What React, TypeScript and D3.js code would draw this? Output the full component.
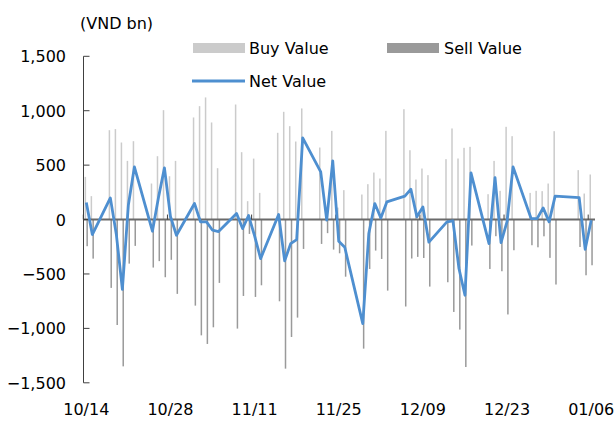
import React from "react";
import * as d3 from "d3";

const dates = [
  "2021-10-14", "2021-10-15", "2021-10-18", "2021-10-19", "2021-10-20", "2021-10-21", "2021-10-22",
  "2021-10-25", "2021-10-26", "2021-10-27", "2021-10-28", "2021-10-29",
  "2021-11-01", "2021-11-02", "2021-11-03", "2021-11-04", "2021-11-05",
  "2021-11-08", "2021-11-09", "2021-11-10", "2021-11-11", "2021-11-12",
  "2021-11-15", "2021-11-16", "2021-11-17", "2021-11-18", "2021-11-19",
  "2021-11-22", "2021-11-23", "2021-11-24", "2021-11-25", "2021-11-26",
  "2021-11-29", "2021-11-30", "2021-12-01", "2021-12-02", "2021-12-03",
  "2021-12-06", "2021-12-07", "2021-12-08", "2021-12-09", "2021-12-10",
  "2021-12-13", "2021-12-14", "2021-12-15", "2021-12-16", "2021-12-17",
  "2021-12-20", "2021-12-21", "2021-12-22", "2021-12-23", "2021-12-24",
  "2021-12-27", "2021-12-28", "2021-12-29", "2021-12-30", "2021-12-31",
  "2022-01-04", "2022-01-05", "2022-01-06",
];

const buyValue = [
  392, 215, 821, 831, 708, 539, 720,
  331, 582, 1005, 398, 539,
  938, 1042, 1122, 892, 472,
  1057, 619, 169, 560, 245,
  797, 990, 858, 717, 1021,
  662, 110, 815, 110, 270,
  230, 325, 432, 377, 815,
  1014, 637, 368, 469, 408,
  555, 837, 561, 659, 668,
  233, 539, 264, 852, 766,
  245, 264, 261, 331, 812,
  454, 239, 414,
];

const sellValue = [
  -245, -359, -628, -969, -1349, -405, -242,
  -441, -382, -530, -370, -683,
  -791, -1064, -1143, -990, -582,
  -1002, -702, -132, -711, -604,
  -751, -1370, -1079, -901, -270,
  -224, -125, -276, -310, -525,
  -1186, -454, -285, -362, -653,
  -799, -358, -343, -353, -616,
  -576, -849, -1011, -1355, -239,
  -454, -153, -475, -872, -282,
  -236, -255, -154, -352, -597,
  -252, -512, -420,
];

const netValue = [
  156, -138, 199, -138, -641, 134, 484,
  -107, 200, 475, 28, -144,
  147, -21, -21, -98, -110,
  55, -83, 37, -150, -359,
  46, -380, -221, -184, 751,
  438, -5, 539, -200, -255,
  -956, -129, 147, 15, 162,
  215, 279, 25, 116, -208,
  -21, -12, -450, -696, 429,
  -221, 386, -211, -20, 484,
  9, 9, 107, -21, 215,
  202, -273, -6,
];

const yTicks = [-1500, -1000, -500, 0, 500, 1000, 1500];
const xTickDates = ["2021-10-14", "2021-10-28", "2021-11-11", "2021-11-25", "2021-12-09", "2021-12-23", "2022-01-06"];
const domainDates = ["2021-10-14", "2022-01-07"];

const FONT = "'DejaVu Sans', Verdana, sans-serif";
const BUY = "#cbcbcb";
const SELL = "#9a9a9a";
const NET = "#4e8fd0";

export default function App() {
  const parse = d3.utcParse("%Y-%m-%d");
  const fmtTick = d3.utcFormat("%m/%d");
  const x = d3.scaleUtc().domain(domainDates.map((d) => parse(d) as Date)).range([83.3, 594.2]);
  const y = d3.scaleLinear().domain([-1500, 1500]).range([382.8, 56.3]);
  const fmtY = d3.format(",");
  const half = 12 * 3600 * 1000;
  const cx = (s: string) => x(new Date((parse(s) as Date).getTime() + half));
  const y0 = y(0);

  const line = d3
    .line<number>()
    .x((_, i) => cx(dates[i]))
    .y((v) => y(v));

  return (
    <svg width={616} height={430} style={{ position: "absolute", left: 0, top: 0, background: "#fff" }}>
      {/* bars */}
      {dates.map((d, i) => (
        <g key={d}>
          <rect x={cx(d) - 1.7} y={y(buyValue[i])} width={1.5} height={y0 - y(buyValue[i])} fill={BUY} />
          <rect x={cx(d) + 0.1} y={y0} width={1.5} height={y(sellValue[i]) - y0} fill={SELL} />
        </g>
      ))}
      {/* zero axis line */}
      <line x1={83.3} x2={595} y1={y0} y2={y0} stroke="#6a6a6a" strokeWidth={2} />
      {xTickDates.map((d) => (
        <line key={d} x1={x(parse(d) as Date)} x2={x(parse(d) as Date)} y1={y0 - 5} y2={y0} stroke="#404040" strokeWidth={1} />
      ))}
      {/* y axis */}
      <line x1={83.5} x2={83.5} y1={y(1500)} y2={y(-1500)} stroke="#404040" strokeWidth={1} />
      {yTicks.map((t) => (
        <g key={t}>
          <line x1={83.5} x2={89.5} y1={y(t)} y2={y(t)} stroke="#404040" strokeWidth={1} />
          <text x={66} y={y(t) + 6} textAnchor="end" fontFamily={FONT} fontSize={16} fill="#000">
            {fmtY(t)}
          </text>
        </g>
      ))}
      {/* net line */}
      <path d={line(netValue) || ""} fill="none" stroke={NET} strokeWidth={2.8} strokeLinejoin="round" />
      {/* x labels */}
      {xTickDates.map((d) => (
        <text key={d} x={cx(d)} y={415} textAnchor="middle" fontFamily={FONT} fontSize={16} fill="#000">
          {fmtTick(parse(d) as Date)}
        </text>
      ))}
      {/* unit */}
      <text x={80} y={29} fontFamily={FONT} fontSize={16} fill="#000">(VND bn)</text>
      {/* legend */}
      <rect x={193} y={43} width={52} height={10} fill={BUY} />
      <text x={249} y={54} fontFamily={FONT} fontSize={16} fill="#000">Buy Value</text>
      <rect x={387} y={43} width={52} height={10} fill={SELL} />
      <text x={444} y={54} fontFamily={FONT} fontSize={16} fill="#000">Sell Value</text>
      <line x1={192} x2={245} y1={81} y2={81} stroke={NET} strokeWidth={2.8} />
      <text x={249} y={87} fontFamily={FONT} fontSize={16} fill="#000">Net Value</text>
    </svg>
  );
}
